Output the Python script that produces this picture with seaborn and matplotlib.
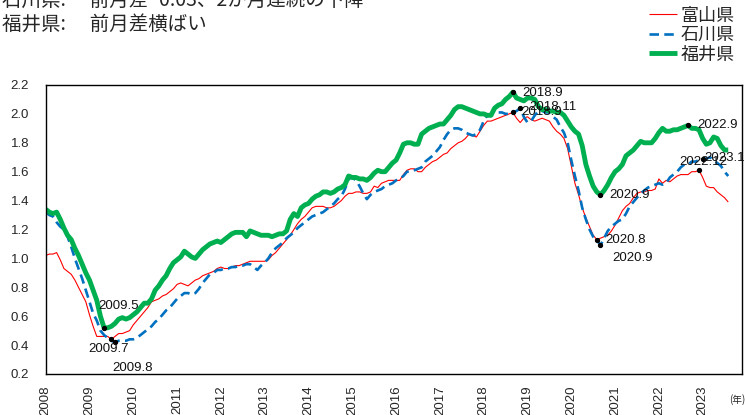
#!/usr/bin/env python3
"""
plot.py - 有効求人倍率の推移（富山・石川・福井）
"""

import numpy as np
import pandas as pd
import matplotlib
matplotlib.use('Agg')
import matplotlib.pyplot as plt
import seaborn as sns

# monthly values, 2008.1 - 2023.8
toyama = [
    1.02, 1.03, 1.03, 1.04, 0.99, 0.93, 0.91, 0.89, 0.85, 0.80, 0.75, 0.70,
    0.61, 0.53, 0.46, 0.46, 0.46, 0.46, 0.44, 0.46, 0.48, 0.48, 0.49, 0.50,
    0.54, 0.57, 0.60, 0.63, 0.66, 0.70, 0.71, 0.72, 0.74, 0.75, 0.77, 0.79,
    0.82, 0.83, 0.82, 0.81, 0.83, 0.85, 0.86, 0.88, 0.89, 0.90, 0.91, 0.93,
    0.94, 0.93, 0.93, 0.94, 0.95, 0.95, 0.96, 0.97, 0.98, 0.98, 0.98, 0.98,
    0.98, 0.99, 1.02, 1.04, 1.07, 1.10, 1.13, 1.16, 1.20, 1.24, 1.27, 1.29,
    1.32, 1.35, 1.36, 1.36, 1.36, 1.35, 1.35, 1.36, 1.38, 1.40, 1.43, 1.45,
    1.45, 1.46, 1.46, 1.45, 1.45, 1.46, 1.50, 1.49, 1.52, 1.53, 1.54, 1.54,
    1.54, 1.54, 1.58, 1.61, 1.62, 1.62, 1.60, 1.60, 1.63, 1.65, 1.67, 1.68,
    1.70, 1.72, 1.73, 1.76, 1.78, 1.80, 1.81, 1.83, 1.86, 1.85, 1.84, 1.88,
    1.92, 1.95, 1.95, 1.96, 1.97, 1.98, 1.99, 2.00, 2.01, 1.97, 1.94, 1.97,
    1.98, 1.96, 1.95, 1.96, 1.97, 1.96, 1.95, 1.91, 1.88, 1.86, 1.83, 1.76,
    1.64, 1.52, 1.44, 1.35, 1.28, 1.22, 1.16, 1.13, 1.14, 1.15, 1.16, 1.19,
    1.23, 1.28, 1.33, 1.36, 1.38, 1.42, 1.45, 1.46, 1.46, 1.47, 1.47, 1.48,
    1.55, 1.52, 1.54, 1.53, 1.55, 1.57, 1.58, 1.58, 1.58, 1.60, 1.60, 1.61,
    1.56, 1.50, 1.49, 1.49, 1.46, 1.44, 1.42, 1.39,
]
ishikawa = [
    1.32, 1.30, 1.29, 1.25, 1.22, 1.20, 1.15, 1.08, 1.00, 0.93, 0.86, 0.78,
    0.70, 0.62, 0.57, 0.50, 0.47, 0.45, 0.43, 0.42, 0.43, 0.43, 0.43, 0.44,
    0.44, 0.45, 0.47, 0.49, 0.51, 0.53, 0.56, 0.58, 0.61, 0.64, 0.66, 0.69,
    0.72, 0.74, 0.76, 0.76, 0.75, 0.76, 0.79, 0.83, 0.86, 0.89, 0.90, 0.92,
    0.92, 0.93, 0.93, 0.94, 0.94, 0.95, 0.95, 0.96, 0.96, 0.94, 0.92, 0.95,
    0.97, 1.00, 1.04, 1.07, 1.09, 1.11, 1.14, 1.16, 1.18, 1.21, 1.23, 1.25,
    1.27, 1.29, 1.30, 1.31, 1.32, 1.34, 1.36, 1.38, 1.41, 1.43, 1.48, 1.55,
    1.56, 1.54, 1.50, 1.45, 1.41, 1.44, 1.46, 1.47, 1.48, 1.50, 1.51, 1.52,
    1.54, 1.55, 1.57, 1.60, 1.60, 1.61, 1.62, 1.63, 1.67, 1.69, 1.71, 1.74,
    1.77, 1.82, 1.86, 1.89, 1.90, 1.90, 1.89, 1.87, 1.86, 1.85, 1.86, 1.89,
    1.95, 1.99, 2.00, 2.01, 2.01, 2.01, 2.00, 2.00, 2.01, 2.02, 2.04, 1.98,
    1.94, 1.95, 1.99, 2.02, 2.02, 2.01, 2.01, 1.98, 1.96, 1.91, 1.87, 1.80,
    1.68, 1.57, 1.47, 1.35, 1.27, 1.20, 1.15, 1.13, 1.09, 1.14, 1.19, 1.22,
    1.24, 1.26, 1.27, 1.31, 1.36, 1.39, 1.42, 1.45, 1.47, 1.49, 1.50, 1.51,
    1.52, 1.51, 1.52, 1.56, 1.58, 1.60, 1.63, 1.65, 1.65, 1.67, 1.67, 1.68,
    1.69, 1.69, 1.70, 1.68, 1.66, 1.64, 1.60, 1.57,
]
fukui = [
    1.34, 1.32, 1.31, 1.32, 1.27, 1.21, 1.16, 1.13, 1.07, 1.02, 0.96, 0.90,
    0.85, 0.78, 0.71, 0.60, 0.52, 0.52, 0.53, 0.55, 0.58, 0.59, 0.58, 0.59,
    0.61, 0.63, 0.66, 0.69, 0.69, 0.72, 0.78, 0.81, 0.85, 0.88, 0.93, 0.97,
    0.99, 1.01, 1.05, 1.03, 1.01, 1.00, 1.03, 1.06, 1.08, 1.10, 1.11, 1.12,
    1.11, 1.13, 1.15, 1.17, 1.18, 1.18, 1.18, 1.15, 1.19, 1.18, 1.17, 1.16,
    1.16, 1.16, 1.15, 1.16, 1.17, 1.17, 1.19, 1.27, 1.31, 1.29, 1.35, 1.37,
    1.38, 1.41, 1.43, 1.44, 1.46, 1.46, 1.45, 1.46, 1.48, 1.49, 1.51, 1.57,
    1.56, 1.56, 1.55, 1.55, 1.54, 1.56, 1.59, 1.61, 1.60, 1.60, 1.63, 1.66,
    1.68, 1.73, 1.79, 1.80, 1.80, 1.79, 1.79, 1.86, 1.88, 1.90, 1.91, 1.92,
    1.93, 1.93, 1.96, 1.99, 2.03, 2.05, 2.05, 2.04, 2.03, 2.02, 2.01, 2.00,
    2.00, 1.99, 1.99, 2.04, 2.06, 2.07, 2.10, 2.12, 2.15, 2.11, 2.10, 2.09,
    2.11, 2.11, 2.10, 2.05, 2.03, 2.03, 2.02, 2.02, 2.01, 2.01, 1.99, 1.95,
    1.91, 1.88, 1.86, 1.78, 1.65, 1.57, 1.50, 1.46, 1.44, 1.47, 1.51, 1.56,
    1.60, 1.62, 1.65, 1.71, 1.73, 1.75, 1.78, 1.81, 1.80, 1.80, 1.80, 1.83,
    1.87, 1.90, 1.88, 1.88, 1.89, 1.89, 1.90, 1.91, 1.92, 1.90, 1.90, 1.89,
    1.83, 1.79, 1.80, 1.84, 1.83, 1.78, 1.75, 1.75,
]

years = list(range(2008, 2024))
series_names = ['富山県', '石川県', '福井県']

# labelled points: (label, series, month index from 2008.1)
marked = [
    ('2009.5', '福井県', 16), ('2009.7', '富山県', 18), ('2009.8', '石川県', 19),
    ('2018.9', '福井県', 128), ('2018.11', '石川県', 130), ('2018.9', '富山県', 128),
    ('2020.9', '福井県', 152), ('2020.8', '富山県', 151), ('2020.9', '石川県', 152),
    ('2022.9', '福井県', 176), ('2022.12', '富山県', 179), ('2023.1', '石川県', 180),
]

title_lines = ['石川県:　 前月差−0.03、2か月連続の下降', '福井県:　 前月差横ばい']

STYLES = {
    '富山県': dict(color='#FF0000', lw=0.8, ls='-'),
    '石川県': dict(color='#0070C0', lw=1.9, ls=(0, (3.6, 2.0))),
    '福井県': dict(color='#00B050', lw=3.5, ls='-'),
}
# label offsets in pixels for the point labels
OFFSETS = [(-6, 22), (-23, -10), (-3, -26), (9, -1), (9, 1), (8, 0),
           (9, 0), (8, 0), (12, -13), (9, 0), (-20, 8), (2, 1)]


def main():
    sns.set_style("white")
    plt.rcParams['font.family'] = ['Noto Sans CJK JP', 'DejaVu Sans']

    months = np.arange(len(toyama))
    df = pd.DataFrame({'month': np.tile(months, 3),
                       'value': toyama + ishikawa + fukui,
                       'pref': np.repeat(series_names, len(months))})

    fig = plt.figure(figsize=(7.45, 4.15), dpi=100)
    ax = fig.add_axes([0.0613, 0.0988, 0.9343, 0.6964])

    for name in series_names:
        st = STYLES[name]
        sub = df[df['pref'] == name]
        sns.lineplot(data=sub, x='month', y='value', ax=ax, color=st['color'],
                     linewidth=st['lw'], linestyle=st['ls'], label=name,
                     solid_capstyle='butt')

    # black dots + labels
    for (txt, name, m), (dx, dy) in zip(marked, OFFSETS):
        v = df[(df['pref'] == name) & (df['month'] == m)]['value'].iloc[0]
        ax.plot(m, v, 'o', color='black', ms=2.8, zorder=5)
        ax.annotate(txt, (m, v), xytext=(dx, dy), textcoords='offset pixels',
                    ha='left', va='center', fontsize=9.5,
                    family='Liberation Sans', color='#111111', zorder=6)

    ax.set_xlim(0, 190.7)
    ax.set_ylim(0.2, 2.2)
    ax.set_yticks(np.arange(0.2, 2.21, 0.2))
    ax.set_yticklabels([f'{t:.1f}' for t in np.arange(0.2, 2.21, 0.2)],
                       family='Liberation Sans', fontsize=9.5)
    ax.set_xticks([12 * i for i in range(len(years))])
    ax.set_xticklabels([str(y) for y in years], rotation=90,
                       family='Liberation Sans', fontsize=9.5)
    ax.set_xticks(np.arange(0, 191, 1), minor=True)
    ax.tick_params(axis='y', direction='in', length=4, width=0.8, pad=12)
    ax.tick_params(axis='x', which='major', direction='in', length=5, width=0.8, pad=8)
    ax.tick_params(axis='x', which='minor', direction='in', length=2.5, width=0.6)
    ax.set_xlabel('')
    ax.set_ylabel('')
    for sp in ax.spines.values():
        sp.set_color('black')
        sp.set_linewidth(1.0)

    ax.get_legend().remove()
    handles, labels = ax.get_legend_handles_labels()
    fig.legend(handles, labels, loc='upper right', bbox_to_anchor=(1.0, 1.01),
               frameon=False, fontsize=13, handlelength=1.55, handletextpad=0.2,
               labelspacing=0.08, borderaxespad=0.2)

    fig.text(0.003, 1.0, title_lines[0], fontsize=14, ha='left', va='center')
    fig.text(0.003, 1 - 24 / 415, title_lines[1], fontsize=14, ha='left', va='center')
    fig.text(0.989, 1 - 400 / 415, '(年)', fontsize=7, ha='center', va='center')

    fig.savefig('out.png', dpi=100)
    plt.close(fig)


if __name__ == "__main__":
    main()
